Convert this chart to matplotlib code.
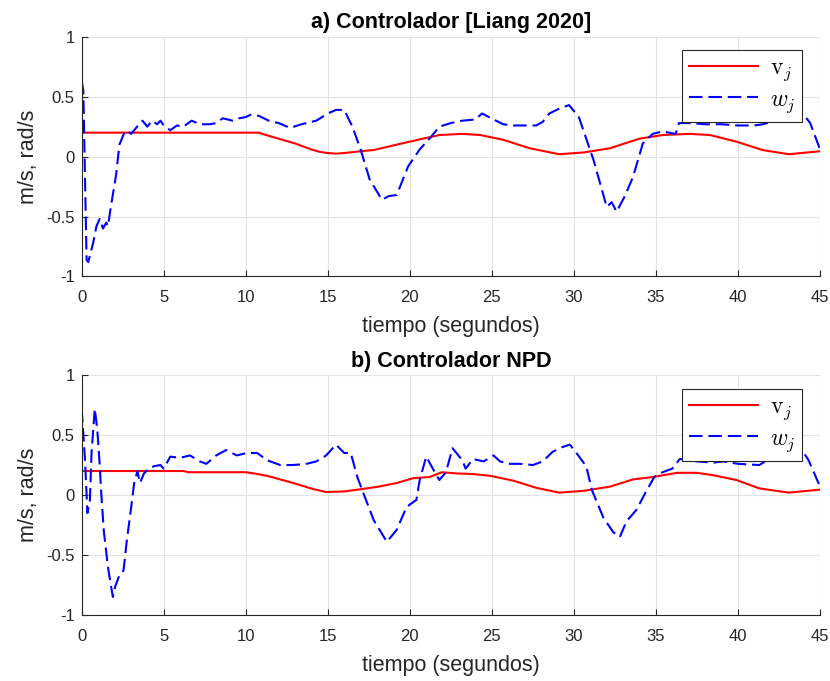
import matplotlib
matplotlib.use("Agg")
import matplotlib.pyplot as plt
import numpy as np

plt.rcParams['font.family'] = ['Liberation Sans', 'DejaVu Sans']
plt.rcParams['mathtext.fontset'] = 'cm'

titles = ["a) Controlador [Liang 2020]", "b) Controlador NPD"]
xlabel = "tiempo (segundos)"
ylabel = "m/s, rad/s"
labels = [r"$\mathrm{v}_j$", r"$w_j$"]
xticks = [0, 5, 10, 15, 20, 25, 30, 35, 40, 45]
yticks = [-1, -0.5, 0, 0.5, 1]

# ---- (a) Liang 2020 ----
ta_v = [0, 10.8, 11.0, 11.5, 12.0, 12.5, 13.0, 13.5, 14.0, 14.5, 15.0, 15.5, 16.0, 17.0,
        17.8, 19.2, 20.8, 21.8, 23.2, 24.3, 25.7, 27.3, 29.1, 30.6, 32.2, 34.0, 35.4,
        37.05, 38.3, 39.9, 41.5, 43.1, 45.0]
va_v = [0.20, 0.20, 0.19, 0.17, 0.15, 0.13, 0.11, 0.085, 0.06, 0.04, 0.03, 0.025, 0.03, 0.045,
        0.055, 0.10, 0.15, 0.18, 0.19, 0.18, 0.14, 0.07, 0.02, 0.035, 0.07, 0.15, 0.18,
        0.19, 0.18, 0.125, 0.055, 0.02, 0.045]

ta_w = [0, 0.1, 0.3, 0.4, 0.7, 0.9, 1.1, 1.3, 1.5, 1.6, 1.8, 2.1, 2.3, 2.6, 2.8, 3.0,
        3.2, 3.5, 3.7, 4.0, 4.3, 4.6, 4.8, 5.0, 5.4, 5.8, 6.2, 6.7, 7.2, 7.8, 8.2,
        8.6, 9.2, 9.6, 10.0, 10.3, 10.8, 11.4, 12.0, 12.7, 13.4, 14.3, 15.0, 15.5,
        16.0, 16.5, 17.0, 17.55, 18.3, 18.7, 19.2, 19.9, 20.6, 21.2, 21.8, 22.5,
        23.2, 24.0, 24.4, 25.1, 25.7, 26.3, 27.0, 27.7, 28.1, 28.5, 29.1, 29.7,
        30.3, 31.2, 32.0, 32.3, 32.6, 33.1, 33.6, 34.2, 34.8, 35.4, 35.8, 36.2,
        36.4, 37.05, 38.0, 39.0, 40.0, 41.0, 41.5, 42.3, 43.0, 43.55, 44.0, 44.4, 45.0]
va_w = [0.63, 0.55, -0.86, -0.88, -0.72, -0.58, -0.52, -0.60, -0.55, -0.58, -0.40, -0.15, 0.10, 0.20, 0.22, 0.19,
        0.22, 0.27, 0.30, 0.25, 0.30, 0.27, 0.30, 0.26, 0.22, 0.26, 0.25, 0.30, 0.27, 0.27, 0.28,
        0.32, 0.30, 0.32, 0.33, 0.35, 0.34, 0.30, 0.28, 0.24, 0.27, 0.30, 0.36, 0.39,
        0.39, 0.25, 0.06, -0.19, -0.36, -0.33, -0.32, -0.08, 0.06, 0.15, 0.25, 0.28,
        0.30, 0.31, 0.36, 0.31, 0.27, 0.26, 0.26, 0.26, 0.29, 0.36, 0.40, 0.43,
        0.33, -0.03, -0.42, -0.38, -0.46, -0.33, -0.17, 0.11, 0.19, 0.21, 0.20, 0.19,
        0.28, 0.28, 0.27, 0.27, 0.26, 0.26, 0.27, 0.30, 0.36, 0.39, 0.35, 0.28, 0.06]

# ---- (b) NPD ----
tb_v = [0, 6.2, 6.5, 10.0, 10.5, 11.3, 12.1, 12.9, 13.5, 14.1, 14.9, 16.0, 17.1, 18.1,
        19.2, 20.2, 21.2, 21.95, 22.85, 23.85, 24.9, 26.3, 27.7, 29.1, 30.6, 32.2,
        33.6, 34.8, 36.3, 37.5, 38.5, 39.9, 41.3, 43.1, 45.0]
vb_v = [0.20, 0.20, 0.19, 0.19, 0.18, 0.16, 0.13, 0.10, 0.075, 0.05, 0.025, 0.03, 0.05, 0.07,
        0.10, 0.14, 0.15, 0.19, 0.18, 0.175, 0.16, 0.12, 0.06, 0.02, 0.035, 0.07,
        0.13, 0.15, 0.185, 0.185, 0.165, 0.125, 0.055, 0.02, 0.045]

tb_w = [0, 0.2, 0.35, 0.5, 0.6, 0.8, 0.95, 1.1, 1.2, 1.35, 1.6, 1.9, 2.05, 2.35, 2.55,
        2.75, 3.0, 3.2, 3.4, 3.55, 3.8, 4.0, 4.4, 4.8, 5.0, 5.4, 6.0, 6.6, 7.2, 7.6,
        8.2, 8.8, 9.45, 10.06, 10.7, 11.3, 12.1, 12.9, 13.7, 14.3, 14.9, 15.5, 16.0,
        16.4, 16.8, 17.1, 17.8, 18.6, 19.2, 19.8, 20.4, 20.6, 21.0, 21.4, 21.8, 22.2,
        22.6, 23.2, 23.4, 23.85, 24.5, 25.1, 25.5, 26.1, 26.7, 27.5, 28.1, 28.7, 29.3,
        29.75, 30.1, 30.75, 31.1, 31.8, 32.4, 32.8, 33.2, 33.8, 34.4, 34.9, 35.4,
        36.0, 36.45, 37.5, 38.5, 39.1, 40.0, 41.3, 41.9, 43.0, 43.9, 44.3, 45.0]
vb_w = [0.72, 0.30, -0.15, -0.05, 0.35, 0.72, 0.55, 0.25, 0.00, -0.30, -0.60, -0.85, -0.76, -0.65, -0.63,
        -0.38, -0.12, 0.10, 0.20, 0.10, 0.18, 0.21, 0.24, 0.25, 0.22, 0.32, 0.31, 0.33, 0.28, 0.26,
        0.33, 0.375, 0.33, 0.35, 0.35, 0.29, 0.25, 0.25, 0.26, 0.28, 0.33, 0.42, 0.35,
        0.35, 0.15, 0.04, -0.21, -0.39, -0.29, -0.10, -0.04, 0.125, 0.32, 0.22, 0.125, 0.19,
        0.39, 0.29, 0.22, 0.30, 0.28, 0.33, 0.28, 0.26, 0.26, 0.25, 0.28, 0.36, 0.40,
        0.42, 0.36, 0.24, 0.04, -0.19, -0.31, -0.35, -0.22, -0.125, 0.03, 0.15, 0.19,
        0.22, 0.30, 0.28, 0.27, 0.28, 0.26, 0.25, 0.30, 0.33, 0.375, 0.29, 0.07]

series = [((ta_v, va_v), (ta_w, va_w)), ((tb_v, vb_v), (tb_w, vb_w))]

fig = plt.figure(figsize=(8.30, 6.81), dpi=100)
axes_pos = [[0.0984, 0.594, 0.8896, 0.352], [0.0984, 0.0969, 0.8896, 0.3524]]
leg_anchor = [(0.976, 0.946), (0.976, 0.943)]

for i, ((tv, vv), (tw, vw)) in enumerate(series):
    ax = fig.add_axes(axes_pos[i])
    ax.plot(tv, vv, color='#ff0000', lw=1.5, label=labels[0])
    ax.plot(tw, vw, color='#0000ff', lw=1.5, ls=(0, (6.5, 2.8)), label=labels[1])
    ax.set_xlim(0, 45)
    ax.set_ylim(-1, 1)
    ax.set_xticks(xticks)
    ax.set_yticks(yticks)
    ax.set_yticklabels([f"{y:g}" for y in yticks])
    ax.grid(True, color='#e3e3e3', lw=0.8)
    ax.set_axisbelow(True)
    for s in ['top', 'right']:
        ax.spines[s].set_visible(False)
    for s in ['left', 'bottom']:
        ax.spines[s].set_color('#262626')
        ax.spines[s].set_linewidth(0.8)
    ax.tick_params(direction='in', length=4, width=0.8, color='#262626',
                   labelsize=12, labelcolor='#262626', pad=5)
    ax.tick_params(axis='x', pad=10)
    ax.set_title(titles[i], fontsize=15.5, fontweight='bold', pad=6)
    ax.set_xlabel(xlabel, fontsize=15.5, color='#262626', labelpad=8)
    ax.set_ylabel(ylabel, fontsize=15.5, color='#262626', labelpad=5.5)
    leg = ax.legend(loc='upper right', bbox_to_anchor=leg_anchor[i], fontsize=17,
                    frameon=True, fancybox=False, edgecolor='#262626', framealpha=1,
                    handlelength=2.9, borderpad=0.3, labelspacing=0.25,
                    handletextpad=0.5, borderaxespad=0.0)
    leg.get_frame().set_linewidth(0.8)

fig.savefig("out.png", dpi=100, facecolor='white')
